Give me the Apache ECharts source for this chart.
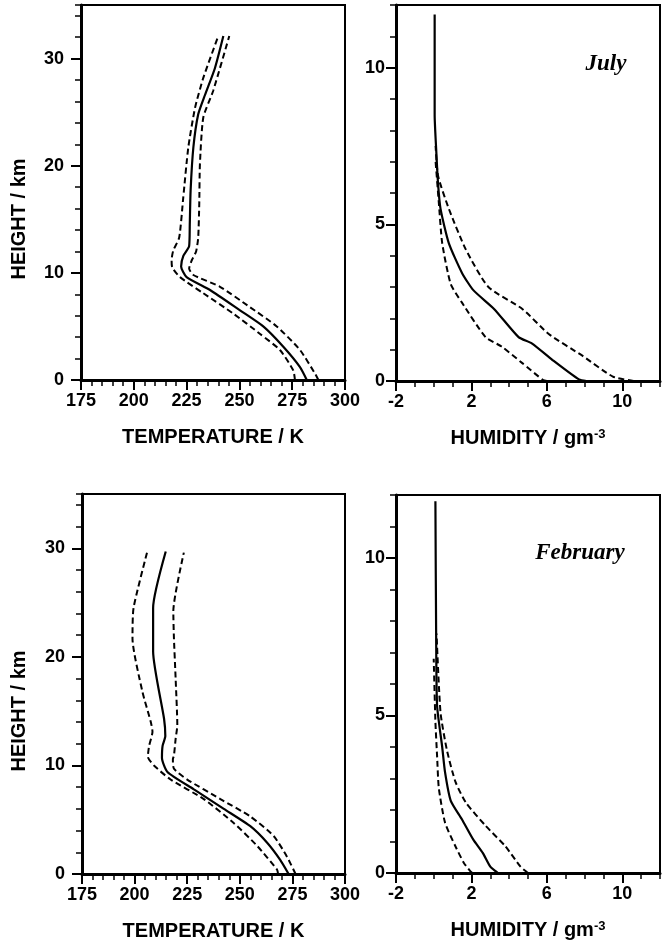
<!DOCTYPE html>
<html>
<head>
<meta charset="utf-8">
<script src="https://cdn.jsdelivr.net/npm/echarts@6/dist/echarts.min.js"></script>
<style>
  html, body { margin: 0; padding: 0; background: #fff; }
  #main { width: 664px; height: 942px; }
</style>
</head>
<body>
<div id="main"></div>
<script>
// tick labels
let tempTicks = [175, 200, 225, 250, 275, 300];
let heightTicks = [0, 10, 20, 30];
let humTicks = [-2, 2, 6, 10];
let humHeightTicks = [0, 5, 10];

// July temperature profile [K, km]
let julyTempMean = [[281.9,0],[278.7,1.2],[270.8,3.1],[261.3,5.0],[250.3,6.5],[236.1,8.4],[225,9.6],[222.4,10.6],[223.5,11.6],[226.2,12.5],[226.5,14.5],[226.9,17.7],[228.2,21.7],[230.5,24.8],[233.7,26.6],[238.4,29.1],[242.4,32.1]];
let julyTempUpper = [[287.4,0],[285.8,0.6],[278.7,2.8],[267.7,5.0],[255,6.8],[240.8,8.7],[228.2,9.8],[226.2,10.4],[227.5,11.2],[229.5,12],[230.5,13.3],[231,16.5],[231.3,20.1],[232.9,24.5],[237.6,27],[245.2,32.1]];
let julyTempLower = [[276.3,0],[275.5,0.9],[269.2,2.8],[259.8,4.3],[247.1,6.2],[232.9,8.1],[221.9,9.6],[218.2,10.5],[217.9,11.2],[218.7,12.1],[221.5,13.3],[223.4,17],[225.8,21.7],[229,25.4],[232.9,28.2],[240,32.1]];

// July humidity profile [g m-3, km]
let julyHumMean = [[8.1,0],[7.7,0.05],[6.3,0.67],[5.2,1.2],[4.5,1.4],[3.2,2.3],[2.1,2.9],[1.5,3.45],[0.8,4.4],[0.36,5.5],[0.23,6.3],[0.13,7.4],[0.05,8.5],[0.05,11.7]];
let julyHumUpper = [[10.6,0],[9.5,0.14],[7.9,0.8],[6.1,1.5],[4.7,2.3],[2.9,3.0],[1.7,4.2],[0.8,5.5],[0.23,6.55],[0.1,7.5]];
let julyHumLower = [[6.0,0],[5.8,0.03],[4.7,0.57],[3.6,1.1],[2.75,1.4],[1.5,2.5],[0.9,3.1],[0.45,4.4],[0.27,5.7],[0.1,7.0]];

// February temperature profile [K, km]
let febTempMean = [[273.2,0],[269.2,1.3],[262.9,2.9],[255,4.4],[242.4,6.0],[228.2,7.8],[215.6,9.4],[213,10.7],[213.3,11.8],[214.6,12.7],[214,14.3],[208.8,20.5],[208.8,24.5],[214.8,29.7]];
let febTempUpper = [[276.5,0],[272.4,1.6],[266.1,3.5],[255,5.3],[240.8,6.9],[225,8.7],[218.7,9.7],[218.2,10.6],[218.7,10.9],[219.5,12.45],[220.3,13.7],[219.5,18],[218.7,21.7],[218.4,24.2],[223.4,29.6]];
let febTempLower = [[268.2,0],[267.7,0.4],[258.2,2.6],[247.1,4.7],[232.9,6.9],[217.1,8.7],[209.2,10],[206.3,10.8],[206.9,11.8],[208.5,13.1],[207.7,14],[203.7,16.8],[199,21.7],[199.5,24.5],[206.1,29.75]];

// February humidity profile [g m-3, km]
let febHumMean = [[3.4,0],[3.3,0.05],[3.0,0.2],[2.6,0.64],[2.1,1.06],[1.5,1.7],[0.9,2.3],[0.6,3.2],[0.45,4.0],[0.18,5.3],[0.13,7.45],[0.09,11.8]];
let febHumUpper = [[5.0,0],[4.6,0.2],[3.8,0.85],[2.75,1.5],[1.7,2.24],[1.15,2.9],[0.7,3.9],[0.36,5.1],[0.15,7.6]];
let febHumLower = [[2.05,0],[1.95,0.05],[1.6,0.32],[1.15,0.85],[0.6,1.6],[0.27,2.7],[0.18,3.7],[0.09,4.8],[0.0,6.8]];

let font = '"Liberation Sans", Arial, Helvetica, sans-serif';
let serif = '"Liberation Serif", "Times New Roman", serif';

let myChart = echarts.init(document.getElementById('main'), null, { renderer: 'canvas' });

// labelled axis with long ticks
function majorAxis(gridIndex, pos, min, max, ticks, margin) {
  return {
    type: 'value', gridIndex: gridIndex, position: pos, min: min, max: max,
    axisLine: { show: true, onZero: false, lineStyle: { color: '#000', width: 3 } },
    axisTick: { show: true, customValues: ticks, length: 10, lineStyle: { color: '#000', width: 2 } },
    axisLabel: { show: true, customValues: ticks, margin: margin, color: '#000', fontSize: 18, fontWeight: 'bold', fontFamily: font },
    splitLine: { show: false }
  };
}
// unlabelled axis for the short ticks
function minorAxis(gridIndex, pos, min, max, step) {
  return {
    type: 'value', gridIndex: gridIndex, position: pos, min: min, max: max, interval: step,
    axisLine: { show: false, onZero: false },
    axisTick: { show: true, length: 6, lineStyle: { color: '#000', width: 1.5 } },
    axisLabel: { show: false },
    splitLine: { show: false }
  };
}

let nameStyle = {
  color: '#000', fontSize: 20, fontWeight: 'bold', fontFamily: font,
  rich: { sup: { fontSize: 13, fontWeight: 'bold', fontFamily: font, verticalAlign: 'top', lineHeight: 12 } }
};

let xAxes = [], yAxes = [];
for (let g = 0; g < 4; g++) {
  let isTemp = g % 2 === 0;
  let xa = isTemp ? majorAxis(g, 'bottom', 175, 300, tempTicks, 12) : majorAxis(g, 'bottom', -2, 12, humTicks, 12);
  xa.name = isTemp ? 'TEMPERATURE / K' : 'HUMIDITY / gm{sup|-3}';
  xa.nameLocation = 'middle';
  xa.nameGap = 47;
  xa.nameTextStyle = nameStyle;
  xAxes.push(xa);
  xAxes.push(isTemp ? minorAxis(g, 'bottom', 175, 300, 5) : minorAxis(g, 'bottom', -2, 12, 1));
  yAxes.push(isTemp ? majorAxis(g, 'left', 0, 35, heightTicks, 17) : majorAxis(g, 'left', 0, 12, humHeightTicks, 11));
  yAxes.push(isTemp ? minorAxis(g, 'left', 0, 35, 2) : minorAxis(g, 'left', 0, 12, 1));
}

function profile(data, g, dashed) {
  return {
    type: 'line', xAxisIndex: g * 2, yAxisIndex: g * 2, data: data,
    symbol: 'none', smooth: 0.2, silent: true,
    lineStyle: { color: '#000', width: dashed ? 2 : 2.2, type: dashed ? [6, 3.5] : 'solid' }
  };
}

let heightLabel = { text: 'HEIGHT / km', fontSize: 20, fontWeight: 'bold', fontFamily: font, fill: '#000', align: 'center', verticalAlign: 'middle' };

let option = {
  animation: false,
  backgroundColor: '#fff',
  grid: [
    { left: 81, top: 5, width: 264, height: 375, show: true, borderColor: '#000', borderWidth: 2 },
    { left: 396, top: 5, width: 264, height: 376, show: true, borderColor: '#000', borderWidth: 2 },
    { left: 82, top: 494, width: 263, height: 380, show: true, borderColor: '#000', borderWidth: 2 },
    { left: 396, top: 495, width: 264, height: 378, show: true, borderColor: '#000', borderWidth: 2 }
  ],
  xAxis: xAxes,
  yAxis: yAxes,
  graphic: [
    { type: 'text', x: 19, y: 219, rotation: Math.PI / 2, style: heightLabel },
    { type: 'text', x: 19, y: 711, rotation: Math.PI / 2, style: heightLabel },
    { type: 'text', x: 606, y: 64,
      style: { text: 'July', fontSize: 23, fontWeight: 'bold', fontStyle: 'italic', fontFamily: serif, fill: '#000', align: 'center', verticalAlign: 'middle' } },
    { type: 'text', x: 580, y: 553,
      style: { text: 'February', fontSize: 23, fontWeight: 'bold', fontStyle: 'italic', fontFamily: serif, fill: '#000', align: 'center', verticalAlign: 'middle' } }
  ],
  series: [
    profile(julyTempMean, 0, false),
    profile(julyTempUpper, 0, true),
    profile(julyTempLower, 0, true),
    profile(julyHumMean, 1, false),
    profile(julyHumUpper, 1, true),
    profile(julyHumLower, 1, true),
    profile(febTempMean, 2, false),
    profile(febTempUpper, 2, true),
    profile(febTempLower, 2, true),
    profile(febHumMean, 3, false),
    profile(febHumUpper, 3, true),
    profile(febHumLower, 3, true)
  ]
};
myChart.setOption(option);
</script>
</body>
</html>
